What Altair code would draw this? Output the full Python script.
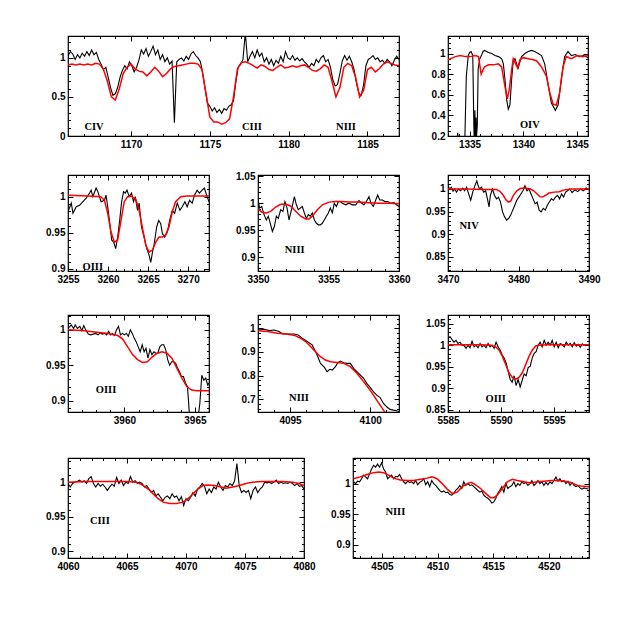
import altair as alt
import pandas as pd


def grid(start, step, n):
    return [round(start + i * step, 4) for i in range(n)]


def ticks(a, b, s):
    out, v = [], a
    while v <= b + 1e-9:
        out.append(round(v, 4))
        v += s
    return out


# ---------------- Panel A : CIV / CIII / NIII (1166-1187) ----------------
A_obs_y = [1.02, 1.08, 1.05, 0.98, 1.04, 1.00, 1.06, 1.02, 1.08, 1.03,
           1.10, 1.04, 1.07, 0.98, 0.92, 0.85, 0.88, 0.75, 0.62, 0.52,
           0.54, 0.62, 0.75, 0.84, 0.90, 0.86, 0.95, 0.90, 0.82, 0.88,
           0.97, 1.10, 1.05, 1.12, 1.02, 1.08, 1.15, 1.04, 1.10, 0.98,
           1.04, 0.95, 1.00, 0.92, 0.96, 0.17, 0.95, 0.98, 1.00, 0.96,
           1.02, 0.98, 1.05, 1.08, 1.03, 1.00, 0.95, 0.80, 0.60, 0.42,
           0.38, 0.32, 0.36, 0.30, 0.34, 0.29, 0.35, 0.33, 0.38, 0.40,
           0.45, 0.70, 0.88, 0.92, 0.98, 1.32, 0.95, 1.02, 1.08, 1.00,
           1.10, 1.02, 1.06, 0.95, 1.00, 0.92, 0.98, 0.90, 0.97, 0.93,
           1.02, 0.95, 1.08, 1.00, 0.98, 1.03, 0.97, 1.00, 0.96, 0.99,
           0.95, 0.92, 0.88, 0.93, 0.90, 0.98, 0.94, 1.00, 1.03, 0.95,
           0.98, 0.88, 0.72, 0.64, 0.66, 0.80, 0.96, 1.03, 0.97, 1.02,
           0.95, 0.85, 0.68, 0.55, 0.52, 0.65, 0.90, 0.98, 1.00, 1.03,
           0.98, 1.00, 0.95, 0.97, 0.93, 0.98, 0.95, 0.90, 0.97, 1.02,
           0.98]
A_obs_x = grid(1166.0, 0.15, len(A_obs_y))
A_mod_y = [0.91, 0.92, 0.91, 0.92, 0.91, 0.92, 0.91, 0.93, 0.92, 0.85,
           0.70, 0.50, 0.46, 0.60, 0.80, 0.88, 0.92, 0.86, 0.83, 0.82,
           0.77, 0.82, 0.88, 0.83, 0.76, 0.80, 0.86, 0.89, 0.90, 0.91,
           0.92, 0.93, 0.93, 0.92, 0.85, 0.55, 0.24, 0.18, 0.18, 0.15,
           0.17, 0.22, 0.50, 0.86, 0.94, 0.95, 0.93, 0.90, 0.87, 0.91,
           0.89, 0.85, 0.84, 0.88, 0.91, 0.87, 0.88, 0.90, 0.88, 0.90,
           0.91, 0.88, 0.84, 0.83, 0.86, 0.91, 0.88, 0.70, 0.50, 0.62,
           0.88, 0.93, 0.90, 0.75, 0.50, 0.58, 0.85, 0.88, 0.82, 0.86,
           0.92, 0.95, 0.93, 0.91, 0.90]
A_mod_x = grid(1166.0, 0.25, len(A_mod_y))

# ---------------- Panel B : OIV (1333-1346) ----------------
B_obs_x = [1333.0, 1333.5, 1333.8, 1333.9, 1334.0, 1334.4, 1334.55, 1334.7, 1334.88, 1335.0,
           1335.15, 1335.3, 1335.4, 1335.45, 1335.5, 1335.55, 1335.6, 1335.65, 1335.72, 1335.8,
           1335.95, 1336.1, 1336.25, 1336.4, 1336.75, 1337.06, 1337.37, 1337.68, 1337.98, 1338.14,
           1338.29, 1338.45, 1338.6, 1338.75, 1338.91, 1339.06, 1339.22, 1339.37, 1339.52, 1339.68,
           1339.83, 1340.14, 1340.45, 1340.75, 1341.06, 1341.37, 1341.68, 1341.98, 1342.29, 1342.6,
           1342.97, 1343.22, 1343.52, 1343.83, 1344.14, 1344.45, 1344.8, 1345.2, 1345.6, 1346.0,
           1346.5]
B_obs_y = [0.05, 0.08, 0.12, 0.23, 0.10, 0.05, 0.10, 0.78, 0.98, 1.01,
           1.02, 0.98, 0.30, 0.10, 0.45, 0.15, 0.38, 0.20, 0.30, 0.85,
           0.95, 0.98, 1.02, 1.03, 1.01, 1.00, 0.98, 0.97, 0.95, 0.90,
           0.75, 0.55, 0.46, 0.50, 0.75, 0.93, 0.95, 0.90, 0.86, 0.92,
           0.97, 1.00, 1.02, 1.03, 1.02, 1.00, 0.98, 0.90, 0.70, 0.52,
           0.45, 0.50, 0.75, 0.97, 1.02, 0.98, 0.99, 0.97, 0.98, 0.96,
           0.97]
B_mod_x = [1333.0, 1333.68, 1334.14, 1334.6, 1335.06, 1335.52, 1335.83, 1336.08, 1336.38, 1336.75,
           1337.22, 1337.68, 1337.98, 1338.29, 1338.51, 1338.69, 1338.91, 1339.06, 1339.28, 1339.46,
           1339.68, 1339.98, 1340.45, 1340.91, 1341.22, 1341.68, 1342.14, 1342.45, 1342.75, 1343.06,
           1343.37, 1343.68, 1343.98, 1344.45, 1345.0, 1345.5, 1346.0, 1346.5]
B_mod_y = [0.94, 0.97, 0.98, 0.97, 0.97, 0.98, 0.97, 0.80, 0.87, 0.89,
           0.89, 0.90, 0.87, 0.68, 0.56, 0.65, 0.84, 0.95, 0.90, 0.86,
           0.94, 0.96, 0.95, 0.94, 0.93, 0.87, 0.78, 0.62, 0.51, 0.50,
           0.62, 0.87, 0.97, 0.95, 0.98, 0.97, 0.98, 0.97]

# ---------------- Row 2, panel 1 : OIII (3255-3272.6) ----------------
C_obs_x = [3255.0, 3255.41, 3255.62, 3256.03, 3256.45, 3256.86, 3257.27, 3257.69, 3257.89, 3258.1,
           3258.51, 3258.72, 3259.13, 3259.55, 3259.75, 3259.96, 3260.17, 3260.45, 3260.7, 3260.95,
           3261.2, 3261.45, 3261.69, 3261.94, 3262.15, 3262.36, 3262.64, 3262.93, 3263.18, 3263.39,
           3263.68, 3263.88, 3264.17, 3264.5, 3264.83, 3265.12, 3265.33, 3265.54, 3265.74, 3266.07,
           3266.32, 3266.57, 3266.78, 3267.07, 3267.4, 3267.69, 3268.02, 3268.31, 3268.64, 3268.97,
           3269.26, 3269.59, 3269.88, 3270.17, 3270.5, 3270.79, 3271.12, 3271.4, 3271.74, 3272.02,
           3272.36, 3272.6]
C_obs_y = [0.979, 0.991, 0.977, 0.986, 0.988, 0.993, 0.998, 1.005, 1.009, 1.000,
           1.012, 1.007, 0.993, 0.995, 1.002, 0.986, 0.967, 0.940, 0.937, 0.928,
           0.944, 0.967, 0.993, 1.007, 1.005, 1.009, 1.000, 1.005, 0.993, 1.000,
           0.981, 0.991, 0.958, 0.944, 0.928, 0.919, 0.909, 0.923, 0.933, 0.958,
           0.967, 0.963, 0.949, 0.944, 0.951, 0.967, 0.981, 0.977, 0.991, 0.981,
           0.986, 0.993, 0.986, 0.995, 0.991, 1.002, 1.009, 1.005, 1.009, 1.012,
           1.000, 0.993]
C_mod_x = [3255.0, 3257.5, 3259.1, 3259.55, 3259.96, 3260.37, 3260.79, 3261.2, 3261.61, 3262.02,
           3262.44, 3262.85, 3263.47, 3263.88, 3264.3, 3264.71, 3265.12, 3265.54, 3265.95, 3266.36,
           3266.78, 3267.19, 3267.6, 3268.02, 3268.43, 3269.05, 3269.88, 3271.12, 3272.6]
C_mod_y = [1.002, 1.001, 1.000, 0.995, 0.977, 0.951, 0.937, 0.940, 0.967, 0.993,
           1.000, 1.001, 0.996, 0.981, 0.956, 0.933, 0.923, 0.926, 0.937, 0.944,
           0.944, 0.947, 0.958, 0.979, 0.993, 1.000, 1.001, 1.001, 1.001]

# ---------------- Row 2, panel 2 : NIII (3350-3360) ----------------
D_obs_x = [3350.0, 3350.12, 3350.26, 3350.43, 3350.59, 3350.73, 3350.9, 3351.02, 3351.16, 3351.3,
           3351.44, 3351.61, 3351.77, 3351.91, 3352.06, 3352.2, 3352.32, 3352.43, 3352.58, 3352.72,
           3352.86, 3353.0, 3353.14, 3353.29, 3353.43, 3353.57, 3353.71, 3353.85, 3354.0, 3354.14,
           3354.28, 3354.42, 3354.56, 3354.7, 3354.85, 3354.99, 3355.13, 3355.27, 3355.41, 3355.56,
           3355.7, 3355.84, 3355.98, 3356.22, 3356.45, 3356.69, 3356.93, 3357.16, 3357.35, 3357.52,
           3357.68, 3357.87, 3358.01, 3358.18, 3358.35, 3358.49, 3358.63, 3358.82, 3359.01, 3359.2,
           3359.41, 3359.65, 3359.81, 3360.0]
D_obs_y = [1.006, 0.991, 0.994, 0.979, 0.969, 0.976, 0.960, 0.948, 0.957, 0.976,
           0.972, 0.988, 0.985, 1.003, 0.991, 0.969, 0.982, 0.994, 1.012, 0.997,
           0.988, 0.991, 0.994, 0.982, 0.972, 0.979, 0.976, 0.982, 0.969, 0.963,
           0.960, 0.960, 0.963, 0.969, 0.976, 0.982, 0.991, 0.982, 1.000, 0.994,
           1.003, 1.003, 1.000, 0.997, 1.000, 0.997, 0.997, 1.005, 1.000, 0.997,
           1.003, 1.012, 1.000, 0.994, 1.006, 1.015, 1.006, 1.006, 1.003, 1.003,
           1.000, 1.001, 0.997, 0.994]
D_mod_x = [3350.0, 3350.31, 3350.59, 3350.9, 3351.25, 3351.61, 3351.96, 3352.32, 3352.67, 3353.03,
           3353.38, 3353.62, 3353.85, 3354.21, 3354.56, 3355.04, 3355.51, 3355.98, 3356.45, 3357.16,
           3357.87, 3358.58, 3359.29, 3360.0]
D_mod_y = [0.989, 0.983, 0.982, 0.985, 0.993, 0.998, 0.998, 0.995, 0.985, 0.976,
           0.971, 0.971, 0.976, 0.988, 0.997, 1.002, 1.003, 1.003, 1.002, 1.002,
           1.001, 1.000, 1.000, 0.999]

# ---------------- Row 2, panel 3 : NIV (3470-3490) ----------------
E_obs_x = [3470.0, 3470.24, 3470.48, 3470.72, 3470.96, 3471.2, 3471.49, 3471.78, 3472.07, 3472.36,
           3472.64, 3472.93, 3473.22, 3473.51, 3473.8, 3474.09, 3474.28, 3474.47, 3474.76, 3475.05,
           3475.34, 3475.63, 3475.82, 3476.01, 3476.3, 3476.59, 3476.88, 3477.16, 3477.45, 3477.74,
           3478.03, 3478.32, 3478.61, 3478.89, 3479.18, 3479.47, 3479.76, 3480.05, 3480.34, 3480.63,
           3480.91, 3481.2, 3481.49, 3481.78, 3482.07, 3482.36, 3482.64, 3482.93, 3483.22, 3483.51,
           3483.8, 3484.09, 3484.38, 3484.66, 3484.95, 3485.24, 3485.53, 3485.82, 3486.11, 3486.39,
           3486.68, 3486.97, 3487.26, 3487.6, 3488.0, 3488.4, 3488.8, 3489.2, 3489.6, 3490.0]
E_obs_y = [1.007, 1.000, 1.004, 0.995, 1.000, 0.993, 1.000, 0.996, 1.002, 0.996,
           1.004, 0.989, 0.975, 0.993, 1.007, 1.018, 1.007, 1.000, 1.004, 0.993,
           0.996, 0.975, 0.960, 0.986, 1.000, 0.986, 0.978, 0.982, 0.971, 0.949,
           0.938, 0.931, 0.935, 0.942, 0.953, 0.964, 0.975, 0.982, 0.989, 0.996,
           1.007, 0.996, 1.000, 0.989, 0.978, 0.967, 0.971, 0.953, 0.949, 0.957,
           0.953, 0.964, 0.971, 0.978, 0.975, 0.982, 0.986, 0.978, 0.989, 0.982,
           0.993, 0.996, 1.000, 0.992, 0.998, 0.994, 1.000, 0.996, 1.002, 0.998]
E_mod_x = [3470.0, 3472.55, 3474.95, 3476.88, 3477.36, 3477.84, 3478.22, 3478.56, 3478.89, 3479.28,
           3479.76, 3480.24, 3480.96, 3481.68, 3482.16, 3482.64, 3483.03, 3483.37, 3483.85, 3484.33,
           3485.05, 3485.77, 3486.49, 3486.97, 3487.45, 3488.5, 3490.0]
E_mod_y = [1.000, 1.000, 0.999, 0.999, 0.995, 0.986, 0.976, 0.971, 0.973, 0.986,
           0.996, 1.001, 1.002, 1.000, 0.996, 0.989, 0.983, 0.982, 0.986, 0.991,
           0.993, 0.994, 0.998, 0.999, 1.000, 1.000, 1.000]

# ---------------- Row 3, panel 1 : OIII (3956-3966) ----------------
F_obs_x = [3956.0, 3956.23, 3956.4, 3956.51, 3956.67, 3956.84, 3956.98, 3957.12, 3957.26, 3957.44,
           3957.6, 3957.79, 3957.95, 3958.14, 3958.28, 3958.42, 3958.6, 3958.74, 3958.88, 3959.02,
           3959.16, 3959.3, 3959.44, 3959.58, 3959.72, 3959.86, 3960.0, 3960.14, 3960.28, 3960.42,
           3960.56, 3960.7, 3960.84, 3960.98, 3961.12, 3961.26, 3961.4, 3961.53, 3961.67, 3961.81,
           3961.95, 3962.09, 3962.23, 3962.37, 3962.51, 3962.65, 3962.79, 3962.93, 3963.07, 3963.21,
           3963.35, 3963.49, 3963.63, 3963.77, 3963.91, 3964.05, 3964.19, 3964.33, 3964.47, 3964.56,
           3964.65, 3964.88, 3965.07, 3965.23, 3965.35, 3965.49, 3965.63, 3965.77, 3965.91, 3966.0]
F_obs_y = [1.002, 1.007, 1.002, 1.007, 1.002, 1.005, 0.999, 1.006, 1.000, 0.994,
           0.993, 0.994, 0.995, 0.993, 0.996, 0.994, 0.995, 0.993, 0.998, 0.993,
           0.995, 0.992, 1.000, 1.005, 0.993, 0.995, 0.993, 0.995, 0.991, 1.000,
           0.995, 0.988, 0.983, 0.976, 0.969, 0.979, 0.969, 0.974, 0.960, 0.972,
           0.965, 0.969, 0.967, 0.967, 0.976, 0.979, 0.979, 0.972, 0.958, 0.950,
           0.955, 0.955, 0.953, 0.946, 0.941, 0.934, 0.934, 0.925, 0.920, 0.896,
           0.868, 0.868, 0.868, 0.877, 0.896, 0.936, 0.929, 0.932, 0.922, 0.925]
F_mod_x = [3956.0, 3956.98, 3957.91, 3958.84, 3959.53, 3959.88, 3960.23, 3960.58, 3960.93, 3961.28,
           3961.63, 3961.98, 3962.33, 3962.67, 3963.02, 3963.37, 3963.72, 3964.07, 3964.42, 3964.77,
           3965.12, 3965.58, 3966.0]
F_mod_y = [1.000, 0.999, 0.997, 0.995, 0.992, 0.987, 0.976, 0.965, 0.958, 0.954,
           0.955, 0.962, 0.967, 0.969, 0.967, 0.960, 0.946, 0.932, 0.920, 0.915,
           0.914, 0.914, 0.914]

# ---------------- Row 3, panel 2 : NIII (4093-4101.8) ----------------
G_obs_x = [4093.0, 4093.39, 4093.7, 4094.01, 4094.32, 4094.52, 4094.83, 4095.25, 4095.5, 4095.76,
           4096.07, 4096.38, 4096.65, 4096.9, 4097.15, 4097.31, 4097.48, 4097.64, 4097.83, 4097.98,
           4098.14, 4098.35, 4098.55, 4098.76, 4098.97, 4099.17, 4099.38, 4099.59, 4099.79, 4100.0,
           4100.21, 4100.41, 4100.62, 4100.83, 4101.03, 4101.24, 4101.45, 4101.65, 4101.82]
G_obs_y = [0.993, 0.996, 0.990, 0.993, 0.986, 0.976, 0.976, 0.976, 0.972, 0.958,
           0.944, 0.930, 0.894, 0.852, 0.835, 0.817, 0.827, 0.824, 0.838, 0.855,
           0.862, 0.855, 0.852, 0.852, 0.831, 0.817, 0.803, 0.789, 0.768, 0.751,
           0.732, 0.718, 0.708, 0.683, 0.669, 0.658, 0.655, 0.652, 0.648]
G_mod_x = [4093.0, 4093.6, 4094.21, 4094.83, 4095.35, 4095.66, 4095.97, 4096.28, 4096.59, 4096.9,
           4097.21, 4097.52, 4097.93, 4098.35, 4098.76, 4099.17, 4099.59, 4100.0, 4100.41, 4100.83,
           4101.03, 4101.45]
G_mod_y = [0.990, 0.986, 0.979, 0.976, 0.968, 0.958, 0.944, 0.923, 0.901, 0.880,
           0.866, 0.859, 0.856, 0.852, 0.838, 0.810, 0.775, 0.739, 0.697, 0.655,
           0.634, 0.592]

# ---------------- Row 3, panel 3 : OIII (5585-5598) ----------------
H_obs_y = [1.015, 1.020, 1.013, 1.007, 1.011, 1.004, 1.007, 1.000, 0.999, 0.993,
           1.000, 0.994, 1.009, 0.996, 1.000, 0.994, 1.004, 0.996, 1.000, 0.994,
           1.004, 0.996, 1.000, 0.993, 1.007, 0.996, 0.989, 0.978, 0.970, 0.959,
           0.940, 0.921, 0.914, 0.929, 0.906, 0.921, 0.903, 0.918, 0.933, 0.929,
           0.948, 0.951, 0.970, 0.981, 0.985, 1.000, 1.007, 0.996, 1.011, 1.000,
           1.007, 1.000, 1.011, 0.996, 1.007, 0.994, 1.004, 1.001, 0.996, 1.007,
           1.000, 1.004, 0.996, 1.006, 0.998, 1.002, 0.995, 1.003, 0.999]
H_obs_x = grid(5585.0, 0.189, len(H_obs_y))
H_mod_x = [5585.0, 5586.51, 5588.08, 5589.03, 5589.5, 5589.81, 5590.13, 5590.44, 5590.75, 5591.07,
           5591.38, 5591.7, 5592.01, 5592.33, 5592.64, 5592.96, 5593.27, 5593.58, 5594.37, 5595.31,
           5596.26, 5598.3]
H_mod_y = [1.001, 1.001, 1.001, 1.000, 0.996, 0.989, 0.974, 0.955, 0.936, 0.925,
           0.921, 0.925, 0.936, 0.955, 0.974, 0.989, 0.998, 1.000, 1.001, 1.001,
           1.001, 1.001]

# ---------------- Row 4, panel 1 : CIII (4060-4080) ----------------
I_obs_y = [0.998, 0.993, 0.998, 1.000, 1.001, 1.003, 1.000, 1.002, 0.998, 1.005,
           1.008, 0.998, 0.993, 0.998, 0.994, 0.997, 0.993, 0.988, 0.993, 0.997,
           0.994, 1.007, 0.998, 1.003, 0.995, 1.000, 0.998, 1.008, 1.000, 1.002,
           0.998, 1.000, 0.998, 0.993, 0.995, 0.990, 0.985, 0.988, 0.980, 0.983,
           0.978, 0.973, 0.978, 0.980, 0.976, 0.983, 0.978, 0.980, 0.973, 0.979,
           0.966, 0.976, 0.973, 0.978, 0.985, 0.980, 0.990, 0.993, 0.998, 0.994,
           0.983, 0.990, 0.985, 0.993, 0.990, 1.000, 0.993, 0.988, 0.995, 0.993,
           0.998, 0.995, 1.002, 1.027, 0.995, 0.985, 0.988, 0.985, 0.988, 0.976,
           0.988, 0.993, 0.985, 0.990, 0.993, 1.000, 0.999, 1.000, 0.998, 1.000,
           1.003, 0.998, 1.000, 0.998, 0.999, 0.998, 1.000, 0.998, 0.995, 0.998,
           0.994, 0.995, 0.990]
I_obs_x = grid(4060.0, 20.0 / (len(I_obs_y) - 1), len(I_obs_y))
I_mod_x = [4060.0, 4061.6, 4063.29, 4064.97, 4065.81, 4066.38, 4066.8, 4067.22, 4067.64, 4068.06,
           4068.62, 4069.19, 4069.75, 4070.17, 4070.59, 4071.01, 4071.43, 4071.85, 4072.42, 4072.98,
           4073.4, 4073.96, 4074.52, 4075.08, 4075.65, 4076.49, 4077.33, 4078.17, 4079.02, 4079.58,
           4080.0]
I_mod_y = [1.000, 1.001, 1.001, 1.001, 1.000, 0.995, 0.990, 0.983, 0.976, 0.971,
           0.969, 0.969, 0.971, 0.976, 0.983, 0.990, 0.995, 0.996, 0.995, 0.993,
           0.991, 0.993, 0.995, 0.998, 1.000, 1.001, 1.001, 1.001, 1.000, 0.998,
           0.995]

# ---------------- Row 4, panel 2 : NIII (4502.4-4523.6) ----------------
J_obs_y = [1.003, 1.000, 1.004, 1.003, 1.008, 1.014, 1.011, 1.008, 1.016, 1.024,
           1.030, 1.027, 1.032, 1.027, 1.034, 1.024, 1.019, 1.008, 1.011, 1.014,
           1.008, 1.012, 1.011, 1.015, 1.008, 1.003, 1.000, 1.004, 1.002, 1.003,
           1.000, 1.005, 0.998, 1.002, 1.004, 1.008, 0.998, 1.003, 0.995, 1.005,
           1.000, 0.997, 0.993, 0.989, 0.986, 0.988, 0.985, 0.986, 0.982, 0.981,
           0.984, 0.989, 0.992, 0.997, 0.992, 1.003, 0.997, 1.000, 0.997, 0.998,
           0.995, 0.992, 0.989, 0.986, 0.988, 0.981, 0.978, 0.976, 0.973, 0.968,
           0.970, 0.976, 0.984, 0.989, 0.995, 0.986, 1.000, 0.992, 0.995, 0.997,
           1.003, 0.995, 1.000, 0.997, 1.003, 1.000, 1.002, 0.997, 1.000, 1.005,
           0.997, 1.000, 1.005, 1.000, 1.003, 0.997, 1.002, 0.998, 1.003, 1.000,
           1.005, 1.011, 1.004, 1.008, 1.003, 1.005, 1.000, 1.004, 0.997, 1.002,
           0.997, 0.995, 0.997, 0.993, 0.991, 0.993, 0.992, 0.991]
J_obs_x = grid(4502.45, 0.18, len(J_obs_y))
J_mod_x = [4502.45, 4503.05, 4503.65, 4504.25, 4504.7, 4505.15, 4505.6, 4506.05, 4506.65, 4507.25,
           4507.85, 4508.45, 4509.05, 4509.5, 4509.95, 4510.41, 4510.86, 4511.31, 4511.76, 4512.21,
           4512.66, 4513.02, 4513.41, 4513.86, 4514.31, 4514.76, 4515.06, 4515.36, 4515.81, 4516.26,
           4516.71, 4517.16, 4517.76, 4518.36, 4518.96, 4519.56, 4520.17, 4520.77, 4521.37, 4521.97,
           4522.57, 4522.87, 4523.6]
J_mod_y = [1.008, 1.011, 1.015, 1.018, 1.019, 1.018, 1.014, 1.009, 1.006, 1.005,
           1.005, 1.007, 1.009, 1.011, 1.008, 1.000, 0.991, 0.984, 0.986, 0.995,
           1.000, 1.002, 0.998, 0.992, 0.984, 0.977, 0.977, 0.981, 0.992, 1.003,
           1.007, 1.005, 1.003, 1.001, 1.003, 1.004, 1.005, 1.005, 1.004, 1.002,
           0.997, 0.996, 0.995]

PANELS = {
    "A": dict(bx=A_obs_x, by=A_obs_y, rx=A_mod_x, ry=A_mod_y,
              xdom=[1166, 1187], ydom=[0, 1.28],
              xmaj=[1170, 1175, 1180, 1185], xmin=ticks(1166, 1187, 1),
              ymaj=[0, 0.5, 1], ymin=ticks(0, 1.2, 0.1),
              lt=["CIV", "CIII", "NIII"], lx=[1167.65, 1177.67, 1183.64], ly=[0.12, 0.12, 0.12]),
    "B": dict(bx=B_obs_x, by=B_obs_y, rx=B_mod_x, ry=B_mod_y,
              xdom=[1333, 1346], ydom=[0.2, 1.17],
              xmaj=[1335, 1340, 1345], xmin=ticks(1333, 1346, 1),
              ymaj=[0.2, 0.4, 0.6, 0.8, 1], ymin=ticks(0.2, 1.15, 0.05),
              lt=["OIV"], lx=[1340.6], ly=[0.31]),
    "C": dict(bx=C_obs_x, by=C_obs_y, rx=C_mod_x, ry=C_mod_y,
              xdom=[3255, 3272.6], ydom=[0.897, 1.03],
              xmaj=[3255, 3260, 3265, 3270], xmin=ticks(3255, 3272, 1),
              ymaj=[0.9, 0.95, 1], ymin=ticks(0.9, 1.03, 0.01),
              lt=["OIII"], lx=[3258.1], ly=[0.902]),
    "D": dict(bx=D_obs_x, by=D_obs_y, rx=D_mod_x, ry=D_mod_y,
              xdom=[3350, 3360], ydom=[0.875, 1.052],
              xmaj=[3350, 3355, 3360], xmin=ticks(3350, 3360, 1),
              ymaj=[0.9, 0.95, 1, 1.05], ymin=ticks(0.88, 1.05, 0.01),
              lt=["NIII"], lx=[3352.6], ly=[0.914]),
    "E": dict(bx=E_obs_x, by=E_obs_y, rx=E_mod_x, ry=E_mod_y,
              xdom=[3470, 3490], ydom=[0.818, 1.031],
              xmaj=[3470, 3480, 3490], xmin=ticks(3470, 3490, 2),
              ymaj=[0.85, 0.9, 0.95, 1], ymin=ticks(0.82, 1.03, 0.01),
              lt=["NIV"], lx=[3473.0], ly=[0.918]),
    "F": dict(bx=F_obs_x, by=F_obs_y, rx=F_mod_x, ry=F_mod_y,
              xdom=[3956, 3966], ydom=[0.884, 1.021],
              xmaj=[3960, 3965], xmin=ticks(3956, 3966, 1),
              ymaj=[0.9, 0.95, 1], ymin=ticks(0.89, 1.02, 0.01),
              lt=["OIII"], lx=[3958.7], ly=[0.915]),
    "G": dict(bx=G_obs_x, by=G_obs_y, rx=G_mod_x, ry=G_mod_y,
              xdom=[4093, 4101.8], ydom=[0.647, 1.056],
              xmaj=[4095, 4100], xmin=ticks(4093, 4101, 1),
              ymaj=[0.7, 0.8, 0.9, 1], ymin=ticks(0.66, 1.04, 0.02),
              lt=["NIII"], lx=[4095.56], ly=[0.708]),
    "H": dict(bx=H_obs_x, by=H_obs_y, rx=H_mod_x, ry=H_mod_y,
              xdom=[5585, 5598.3], ydom=[0.845, 1.07],
              xmaj=[5585, 5590, 5595], xmin=ticks(5585, 5598, 1),
              ymaj=[0.85, 0.9, 0.95, 1, 1.05], ymin=ticks(0.85, 1.07, 0.01),
              lt=["OIII"], lx=[5589.5], ly=[0.876]),
    "I": dict(bx=I_obs_x, by=I_obs_y, rx=I_mod_x, ry=I_mod_y,
              xdom=[4060, 4080], ydom=[0.89, 1.035],
              xmaj=[4060, 4065, 4070, 4075, 4080], xmin=ticks(4060, 4080, 1),
              ymaj=[0.9, 0.95, 1], ymin=ticks(0.89, 1.03, 0.01),
              lt=["CIII"], lx=[4062.7], ly=[0.943]),
    "J": dict(bx=J_obs_x, by=J_obs_y, rx=J_mod_x, ry=J_mod_y,
              xdom=[4502.4, 4523.6], ydom=[0.878, 1.042],
              xmaj=[4505, 4510, 4515, 4520], xmin=ticks(4503, 4523, 1),
              ymaj=[0.9, 0.95, 1], ymin=ticks(0.88, 1.04, 0.01),
              lt=["NIII"], lx=[4506.2], ly=[0.954]),
}

MAJ, MIN = 5, 2.5


def inside(vals, dom):
    return [v for v in vals if dom[0] - 1e-9 <= v <= dom[1] + 1e-9]


def lab_axis(orient, values, fmt, extent=None):
    kw = dict(orient=orient, values=values, format=fmt, ticks=False, domain=False,
              grid=False, labelPadding=3, labelFlush=False, labelOverlap=False, title=None)
    if extent is not None:
        kw.update(minExtent=extent, maxExtent=extent)
    return alt.Axis(**kw)


def tick_axis(orient, values, size):
    return alt.Axis(orient=orient, values=values, ticks=True, tickSize=size, offset=-size,
                    tickColor="black", tickWidth=1, labels=False, domain=False,
                    grid=False, title=None)


def panel(key, w, h):
    p = PANELS[key]
    xs = alt.Scale(domain=p["xdom"], nice=False, zero=False)
    ys = alt.Scale(domain=p["ydom"], nice=False, zero=False)
    xmaj, xmin = inside(p["xmaj"], p["xdom"]), inside(p["xmin"], p["xdom"])
    ymaj, ymin = inside(p["ymaj"], p["ydom"]), inside(p["ymin"], p["ydom"])
    obs = pd.DataFrame({"x": p["bx"], "y": p["by"]})
    mod = pd.DataFrame({"x": p["rx"], "y": p["ry"]})
    lab = pd.DataFrame({"x": p["lx"], "y": p["ly"], "t": p["lt"]})

    black = alt.Chart(obs).mark_line(color="black", strokeWidth=1.1, clip=True).encode(
        x=alt.X("x:Q", scale=xs, axis=lab_axis("bottom", xmaj, "d")),
        y=alt.Y("y:Q", scale=ys, axis=lab_axis("left", ymaj, "~g", 30)),
        order=alt.Order("x:Q"))
    red = alt.Chart(mod).mark_line(color="#ff0000", strokeWidth=1.5, clip=True).encode(
        x=alt.X("x:Q", scale=xs, axis=tick_axis("bottom", xmaj, MAJ)),
        y=alt.Y("y:Q", scale=ys, axis=tick_axis("left", ymaj, MAJ)),
        order=alt.Order("x:Q"))
    txt = alt.Chart(lab).mark_text(font="Liberation Serif", fontWeight="bold",
                                   fontSize=10.5, color="black").encode(
        x=alt.X("x:Q", scale=xs, axis=tick_axis("top", xmaj, MAJ)),
        y=alt.Y("y:Q", scale=ys, axis=tick_axis("right", ymaj, MAJ)),
        text="t:N")
    m1 = alt.Chart(lab).mark_point(opacity=0).encode(
        x=alt.X("x:Q", scale=xs, axis=tick_axis("bottom", xmin, MIN)),
        y=alt.Y("y:Q", scale=ys, axis=tick_axis("left", ymin, MIN)))
    m2 = alt.Chart(lab).mark_point(opacity=0).encode(
        x=alt.X("x:Q", scale=xs, axis=tick_axis("top", xmin, MIN)),
        y=alt.Y("y:Q", scale=ys, axis=tick_axis("right", ymin, MIN)))
    return alt.layer(black, red, txt, m1, m2).resolve_axis(
        x="independent", y="independent").properties(width=w, height=h)


row1 = alt.hconcat(panel("A", 331, 100), panel("B", 140, 100), spacing=49, bounds="flush")
row2 = alt.hconcat(panel("C", 141, 96), panel("D", 141, 96), panel("E", 141, 96),
                   spacing=49, bounds="flush")
row3 = alt.hconcat(panel("F", 141, 97), panel("G", 141, 97), panel("H", 141, 97),
                   spacing=49, bounds="flush")
row4 = alt.hconcat(panel("I", 236, 100), panel("J", 236, 100), spacing=49, bounds="flush")

chart = alt.vconcat(
    alt.vconcat(
        alt.vconcat(row1, row2, spacing=20),
        row3, spacing=28),
    row4, spacing=30
).properties(
    padding={"left": 29, "top": 26, "right": 5, "bottom": 5}
).configure_view(
    stroke="black", strokeWidth=1.2
).configure_axis(
    labelFont="Liberation Sans", labelFontWeight="bold", labelFontSize=10, labelColor="black"
)

chart.save("out.html", embed_options={"renderer": "svg", "actions": False})
